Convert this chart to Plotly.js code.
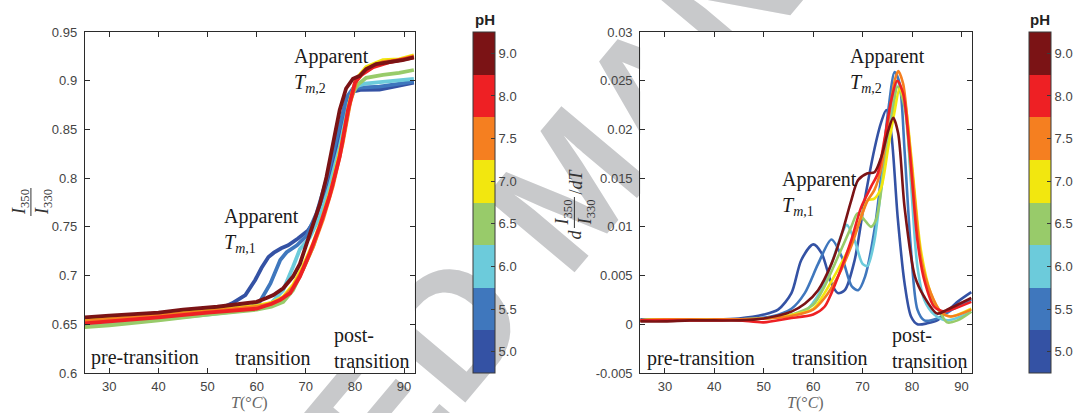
<!DOCTYPE html>
<html>
<head>
<meta charset="utf-8">
<script src="https://cdn.plot.ly/plotly-3.0.1.min.js"></script>
<style>html,body{margin:0;padding:0;background:#fff;}#chart{width:1078px;height:413px;}</style>
</head>
<body>
<div id="chart"></div>
<script>
// ---------- DATA ----------
const phLabels = ['5.0','5.5','6.0','6.5','7.0','7.5','8.0','9.0'];
const phColors = ['#3452a4','#3f77bd','#6ccbdb','#98cb6a','#f2e70f','#f57f20','#ee2024','#7b1315'];

// Left panel: I350/I330 ratio vs T
const T_r50 = [25,30,35,40,45,50,53,55,57.7,59.7,61,62.4,63.5,65,66.4,68.4,70.4,72,73.8,75.8,77.1,78.5,79.8,81.1,83,85,88,92];
const R_50  = [0.6545,0.6565,0.658,0.66,0.662,0.665,0.667,0.6715,0.68,0.6955,0.708,0.719,0.7235,0.728,0.731,0.738,0.746,0.758,0.784,0.818,0.853,0.88,0.889,0.8905,0.8905,0.891,0.894,0.898];
const T_r55 = [25,30,40,50,55,59,60.5,61.4,62.8,64.8,66.1,68.2,70.2,72.2,74.2,76.2,78.3,79.6,81,85,88,92];
const R_55  = [0.653,0.655,0.658,0.662,0.665,0.668,0.672,0.68,0.692,0.716,0.724,0.731,0.741,0.764,0.798,0.839,0.883,0.892,0.893,0.894,0.896,0.899];
const T_r60 = [25,30,40,50,60,63,65.4,67.4,68.8,70.8,72.8,74.8,76.9,78.8,80.2,82,86,92];
const R_60  = [0.649,0.651,0.655,0.66,0.666,0.672,0.685,0.709,0.727,0.739,0.76,0.791,0.832,0.877,0.894,0.897,0.899,0.902];
const T_r65 = [25,30,40,50,60,63,65.4,67.4,69.4,71.5,73.5,75.5,77.5,79.2,80.6,82.3,85.7,89,92];
const R_65  = [0.647,0.649,0.654,0.66,0.665,0.668,0.673,0.685,0.706,0.73,0.761,0.795,0.839,0.884,0.896,0.903,0.906,0.908,0.911];
const T_r70 = [25,30,40,50,60,63,65.4,67.4,69.4,71.5,73.5,75.5,77.5,78.9,80.2,82.3,85.7,89,92];
const R_70  = [0.655,0.657,0.66,0.664,0.669,0.672,0.678,0.69,0.709,0.733,0.761,0.795,0.839,0.877,0.901,0.914,0.921,0.922,0.926];
const T_r75 = [25,30,40,50,60,63,65.4,67.4,69.4,71.5,73.5,75.5,77.5,79,80.3,82.3,85.7,89,92];
const R_75  = [0.653,0.655,0.659,0.663,0.668,0.671,0.677,0.688,0.706,0.73,0.758,0.792,0.836,0.877,0.9,0.912,0.919,0.921,0.925];
const T_r80 = [25,30,40,50,60,63,64.8,66.8,68.8,70.8,72.8,74.8,76.9,78.6,80,81.3,83.7,87,92];
const R_80  = [0.651,0.653,0.657,0.662,0.666,0.671,0.675,0.682,0.699,0.723,0.75,0.781,0.822,0.87,0.898,0.906,0.914,0.919,0.924];
const T_r90 = [25,30,40,45,52,58,60,62,63.4,65.4,67.4,68.8,70.2,71.5,72.9,74.2,75.5,76.9,78.2,79.6,81,82.3,84.3,87,89.7,92];
const R_90  = [0.657,0.659,0.662,0.665,0.668,0.672,0.673,0.677,0.68,0.687,0.699,0.712,0.733,0.754,0.774,0.801,0.835,0.87,0.892,0.902,0.905,0.912,0.917,0.919,0.921,0.924];

// Right panel: d(I350/I330)/dT vs T
const T_d50 = [25,30,35,40,45,50,52.9,55.6,57.6,60,61.7,63.7,65,66.4,68.4,70.4,72.4,73.8,74.8,75.8,77.1,78.5,79.8,81.1,83.1,85.1,87.1,89.2,92];
const D_50  = [0.0005,0.0005,0.0005,0.0005,0.0006,0.001,0.0015,0.0032,0.0066,0.0082,0.0073,0.0042,0.0032,0.0035,0.0066,0.0127,0.018,0.0208,0.022,0.0196,0.011,0.0042,0.0008,0,0.0001,0.0004,0.0013,0.0023,0.0033];
const T_d55 = [25,30,40,45,51.5,55.6,58.3,61,63.7,65.8,67.8,69.1,70.5,72.5,73.8,75.2,76.5,77.5,78.5,79.8,81.1,82.5,85.1,88.5,92];
const D_55  = [0.0004,0.0005,0.0005,0.0005,0.0008,0.0016,0.0032,0.0062,0.0087,0.0069,0.0039,0.0035,0.0049,0.01,0.0154,0.022,0.0259,0.0247,0.0178,0.0076,0.0015,0.0004,0.0006,0.0016,0.0025];
const T_d60 = [25,30,40,50,55,58.3,61.6,63.7,65.8,66.8,68.4,70,71,72.4,74.4,75.8,77.1,78.5,79.8,81.1,82.5,84.5,87.1,92];
const D_60  = [0.0004,0.0005,0.0005,0.0006,0.0009,0.0013,0.0035,0.0062,0.0093,0.0102,0.0086,0.0062,0.006,0.0086,0.0168,0.022,0.0249,0.023,0.0144,0.0059,0.0025,0.001,0.0004,0.0013];
const T_d65 = [25,30,40,50,55,60,62.3,65,67.7,69,70.4,71.7,72.7,74.4,75.8,77.1,78.5,79.8,81.8,83.8,85.8,87.1,89.2,92];
const D_65  = [0.0004,0.0005,0.0005,0.0006,0.0009,0.002,0.0039,0.0069,0.01,0.0114,0.0107,0.01,0.0107,0.0161,0.0206,0.0244,0.0223,0.0155,0.0066,0.0028,0.0011,0.0002,0.0004,0.0013];
const T_d70 = [25,30,40,50,55,60,62.3,65,67.7,69.7,71,72.4,73.8,75.2,76.5,77.5,78.5,79.8,81.8,83.8,85.8,87.8,92];
const D_70  = [0.0004,0.0005,0.0005,0.0006,0.0009,0.0016,0.0032,0.0056,0.0083,0.011,0.0127,0.0129,0.0141,0.0182,0.0219,0.0242,0.023,0.0175,0.0076,0.0032,0.0013,0.0008,0.0016];
const T_d75 = [25,30,40,50,55,60,62.3,65,67.7,69.7,71,72.4,73.8,75.2,76.5,77.2,78.2,79.2,80.6,81.9,83.8,85.8,87.8,92];
const D_75  = [0.0004,0.0005,0.0005,0.0006,0.0008,0.0015,0.0027,0.0049,0.008,0.011,0.0127,0.0138,0.0161,0.0209,0.025,0.026,0.0247,0.0202,0.0127,0.0066,0.0032,0.0013,0.0008,0.0015];
const T_d80 = [25,30,40,45,50,55,60,62.3,63.7,65.8,67.7,69.7,71.7,73.1,74.4,75.8,77,78.2,79.5,81.1,82.5,84.5,86.5,88.5,92];
const D_80  = [0.0004,0.0004,0.0004,0.0004,0.0002,0.0006,0.001,0.0018,0.0032,0.0059,0.0086,0.012,0.0141,0.0155,0.0189,0.023,0.025,0.0237,0.0179,0.0086,0.0045,0.0018,0.0013,0.0016,0.0023];
const T_d90 = [25,30,35,40,45,50,55.6,58.3,61,63.7,65.8,67.7,69.1,71,72.4,73.8,75.2,76.2,77.2,78.5,80.6,82.5,85.1,87.1,92];
const D_90  = [0.0003,0.0003,0.0004,0.0004,0.0004,0.0006,0.0013,0.0021,0.0035,0.0062,0.0093,0.0127,0.0148,0.0155,0.0156,0.0172,0.0199,0.0212,0.0196,0.012,0.0049,0.0028,0.0011,0.0015,0.0027];

const ratioT = [T_r50,T_r55,T_r60,T_r65,T_r70,T_r75,T_r80,T_r90];
const ratioV = [R_50,R_55,R_60,R_65,R_70,R_75,R_80,R_90];
const derivT = [T_d50,T_d55,T_d60,T_d65,T_d70,T_d75,T_d80,T_d90];
const derivV = [D_50,D_55,D_60,D_65,D_70,D_75,D_80,D_90];

// ---------- LAYOUT HELPERS ----------
const W = 1078, H = 413;
const px = v => v / W;
const py = v => 1 - v / H;

const serif = 'Liberation Serif, Times New Roman, serif';
const sans = 'Liberation Sans, Arial, Helvetica, sans-serif';

const traces = [];
for (let i = 0; i < phLabels.length; i++) {
  traces.push({x: ratioT[i], y: ratioV[i], xaxis:'x', yaxis:'y', type:'scatter', mode:'lines',
    line:{color: phColors[i], width: 3.8}, name:'pH '+phLabels[i], showlegend:false, hoverinfo:'skip'});
}
for (let i = 0; i < phLabels.length; i++) {
  traces.push({x: derivT[i], y: derivV[i], xaxis:'x2', yaxis:'y2', type:'scatter', mode:'lines',
    line:{color: phColors[i], width: 2.6, shape:'spline', smoothing:0.8}, name:'pH '+phLabels[i], showlegend:false, hoverinfo:'skip'});
}

// discrete colorscale
const n = phColors.length;
const cscale = [];
phColors.forEach((c, i) => { cscale.push([i / n, c]); cscale.push([(i + 1) / n, c]); });
const tickv = phLabels.map((_, i) => i + 0.5);

function cbTrace(xa, ya, xLeftPx) {
  return {x: phLabels.map(() => null), y: phLabels.map(() => null), xaxis: xa, yaxis: ya,
    type:'scatter', mode:'markers', showlegend:false, hoverinfo:'skip',
    marker:{color: phLabels.map((_, i) => i + 0.5), colorscale: cscale, cmin: 0, cmax: n, showscale: true,
      colorbar:{x: px(xLeftPx), xanchor:'left', xref:'paper', y: 1 - 373 / H, yanchor:'bottom', yref:'paper',
        len: 341 / H, lenmode:'fraction', thickness: 22, thicknessmode:'pixels', xpad: 0, ypad: 0,
        outlinewidth: 1, outlinecolor:'#3a3a3a', tickmode:'array', tickvals: tickv, ticktext: phLabels,
        ticks:'inside', ticklen: 4, tickcolor:'#3a3a3a', tickwidth: 1,
        tickfont:{family: sans, size: 13, color:'#444'}}}};
}
traces.push(cbTrace('x','y',474));
traces.push(cbTrace('x2','y2',1032));

const axCommon = {showline:true, linecolor:'#2b2b2b', linewidth:1, mirror:'ticks', ticks:'inside', ticklen:5,
  tickcolor:'#2b2b2b', tickwidth:1, showgrid:false, zeroline:false,
  tickfont:{family: sans, size: 13, color:'#444'}, fixedrange:true};

const xTicks = [30,40,50,60,70,80,90];
const yTicksL = [0.6,0.65,0.7,0.75,0.8,0.85,0.9,0.95];
const yTicksR = [-0.005,0,0.005,0.01,0.015,0.02,0.025,0.03];
const yTickTextR = ['-0.005','0','0.005','0.01','0.015','0.02','0.025','0.03'];

const coverRect = (xr, yr) => ({type:'rect', xref: xr + ' domain', yref: yr + ' domain', layer:'below',
  x0: 0, x1: 1, y0: 0, y1: 1, fillcolor:'#ffffff', line:{width:0, color:'rgba(0,0,0,0)'}});

const layout = {
  width: W, height: H, margin:{l:0,r:0,t:0,b:0}, paper_bgcolor:'#ffffff', plot_bgcolor:'#ffffff',
  showlegend:false,
  xaxis: Object.assign({}, axCommon, {domain:[px(85), px(416)], range:[25, 92.2], tickvals: xTicks, ticklabelstandoff: 1, anchor:'y'}),
  yaxis: Object.assign({}, axCommon, {domain:[py(373), py(32)], range:[0.6, 0.95], tickvals: yTicksL, ticklabelstandoff: 4, anchor:'x'}),
  xaxis2: Object.assign({}, axCommon, {domain:[px(642), px(975)], range:[25, 92.2], tickvals: xTicks, ticklabelstandoff: 1, anchor:'y2'}),
  yaxis2: Object.assign({}, axCommon, {domain:[py(373), py(32)], range:[-0.005, 0.03], tickvals: yTicksR, ticktext: yTickTextR, ticklabelstandoff: 4, anchor:'x2'}),
  shapes: [
    // watermark (behind the plot areas)
    {type:'rect', xref:'paper', yref:'paper', layer:'below', x0: px(545), x1: px(575), y0: py(190), y1: py(160),
      line:{width:0, color:'rgba(0,0,0,0)'}, fillcolor:'rgba(0,0,0,0)',
      label:{text:'ACCEPTED MANUSCRIPT', textangle:-50, textposition:'middle center',
        font:{family: sans, size: 170, color:'#c8c9cb', weight:'bold'}}},
    coverRect('x','y'),
    coverRect('x2','y2'),
    // fraction bars of the y titles
    {type:'line', xref:'paper', yref:'paper', x0: px(31), x1: px(31), y0: py(188), y1: py(216), line:{color:'#333', width:1}},
    {type:'line', xref:'paper', yref:'paper', x0: px(576), x1: px(576), y0: py(197), y1: py(228), line:{color:'#333', width:1}}
  ],
  annotations: []
};

const ann = layout.annotations;
function txt(o) { ann.push(Object.assign({showarrow:false, font:{family: serif, size: 20, color:'#1a1a1a'}}, o)); }

// left panel labels
txt({xref:'x', yref:'y', x: 67.1, y: 0.9387, xanchor:'left', yanchor:'top', align:'left', text:'Apparent<br><i>T</i><sub><i>m</i>,2</sub>'});
txt({xref:'x', yref:'y', x: 52.9, y: 0.7746, xanchor:'left', yanchor:'top', align:'left', text:'Apparent<br><i>T</i><sub><i>m</i>,1</sub>'});
txt({xref:'x', yref:'y', x: 25.8, y: 0.6155, xanchor:'left', yanchor:'middle', text:'pre-transition'});
txt({xref:'x', yref:'y', x: 55.2, y: 0.6155, xanchor:'left', yanchor:'middle', text:'transition'});
txt({xref:'x', yref:'y', x: 75.4, y: 0.6258, xanchor:'left', yanchor:'middle', align:'left', text:'post-<br>transition'});
// right panel labels
txt({xref:'x2', yref:'y2', x: 67.05, y: 0.02887, xanchor:'left', yanchor:'top', align:'left', text:'Apparent<br><i>T</i><sub><i>m</i>,2</sub>'});
txt({xref:'x2', yref:'y2', x: 53.2, y: 0.01625, xanchor:'left', yanchor:'top', align:'left', text:'Apparent<br><i>T</i><sub><i>m</i>,1</sub>'});
txt({xref:'x2', yref:'y2', x: 26.0, y: -0.00346, xanchor:'left', yanchor:'middle', text:'pre-transition'});
txt({xref:'x2', yref:'y2', x: 55.4, y: -0.00346, xanchor:'left', yanchor:'middle', text:'transition'});
txt({xref:'x2', yref:'y2', x: 75.5, y: -0.00243, xanchor:'left', yanchor:'middle', align:'left', text:'post-<br>transition'});

// axis titles
const grey = {family: serif, size: 16, color:'#666'};
txt({xref:'paper', yref:'paper', x: px(250), y: 0, xanchor:'center', yanchor:'bottom', text:'<i>T</i>(°<i>C</i>)', font: grey, borderpad: 0});
txt({xref:'paper', yref:'paper', x: px(808), y: 0, xanchor:'center', yanchor:'bottom', text:'<i>T</i>(°<i>C</i>)', font: grey, borderpad: 0});
const yt = {family: serif, size: 18, color:'#333'};
txt({xref:'paper', yref:'paper', x: px(20), y: py(202), xanchor:'center', yanchor:'middle', textangle:-90, text:'<i>I</i><sub>350</sub>', font: yt});
txt({xref:'paper', yref:'paper', x: px(43), y: py(202), xanchor:'center', yanchor:'middle', textangle:-90, text:'<i>I</i><sub>330</sub>', font: yt});
txt({xref:'paper', yref:'paper', x: px(577), y: py(234), xanchor:'center', yanchor:'middle', textangle:-90, text:'<i>d</i>', font: yt});
txt({xref:'paper', yref:'paper', x: px(565), y: py(212), xanchor:'center', yanchor:'middle', textangle:-90, text:'<i>I</i><sub>350</sub>', font: yt});
txt({xref:'paper', yref:'paper', x: px(588), y: py(212), xanchor:'center', yanchor:'middle', textangle:-90, text:'<i>I</i><sub>330</sub>', font: yt});
txt({xref:'paper', yref:'paper', x: px(578), y: py(181), xanchor:'center', yanchor:'middle', textangle:-90, text:'/<i>dT</i>', font: yt});
// colorbar titles
const pH = {family: sans, size: 15, color:'#222', weight:'bold'};
txt({xref:'paper', yref:'paper', x: px(486), y: py(20), xanchor:'center', yanchor:'middle', text:'<b>pH</b>', font: pH});
txt({xref:'paper', yref:'paper', x: px(1043), y: py(20), xanchor:'center', yanchor:'middle', text:'<b>pH</b>', font: pH});

Plotly.newPlot('chart', traces, layout, {displayModeBar:false, staticPlot:true});
</script>
</body>
</html>
